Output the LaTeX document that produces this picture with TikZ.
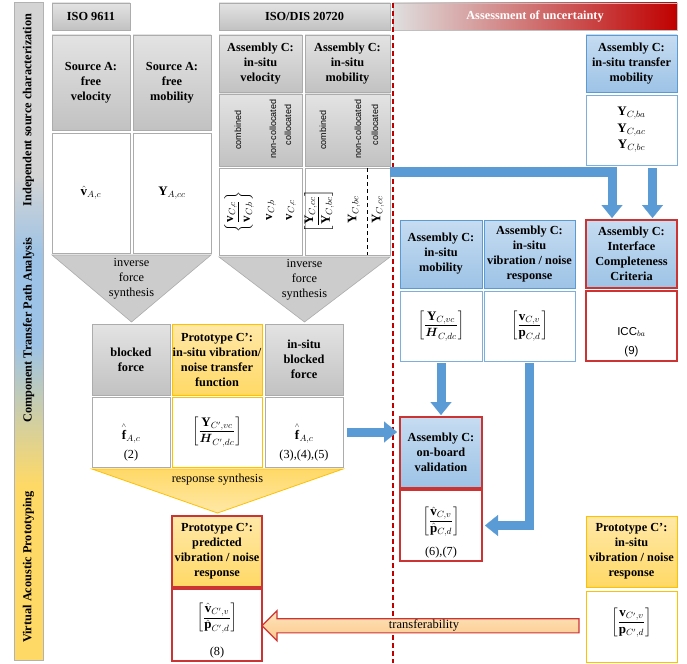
\documentclass[tikz,border=0pt]{standalone}
\usepackage{amsmath}
\usepackage{fontspec}
\setmainfont{Liberation Serif}
\setsansfont{Liberation Sans}
\usetikzlibrary{arrows.meta,shapes.arrows,calc}
\definecolor{bluefill1}{HTML}{C6DCF1}
\definecolor{bluefill2}{HTML}{9DC3E6}
\definecolor{bluedraw}{HTML}{5B9BD5}
\definecolor{arrowblue}{HTML}{5B9BD5}
\definecolor{yel1}{HTML}{FFE8A8}
\definecolor{yel2}{HTML}{FFD966}
\definecolor{yeldraw}{HTML}{FFC000}
\definecolor{redd}{HTML}{CC3333}
\definecolor{darkred}{HTML}{C00000}
\definecolor{midred}{HTML}{D02A2A}
\definecolor{peach1}{HTML}{FFE4BC}
\definecolor{peach2}{HTML}{FBC98C}
\definecolor{side1}{HTML}{D4D4D4}
\tikzset{
  sz/.style 2 args={minimum width=#1pt, minimum height=#2pt},
  base/.style={rectangle, inner sep=0pt, outer sep=0pt, anchor=north west, align=center},
  titlefont/.style={font=\fontsize{12.3}{15}\selectfont\bfseries},
  graybox/.style={base, titlefont, draw=gray!65, top color=gray!22, bottom color=gray!48, line width=0.6pt},
  bluebox/.style={base, titlefont, draw=bluedraw, top color=bluefill1, bottom color=bluefill2, line width=0.8pt},
  yelbox/.style={base, titlefont, draw=yeldraw, top color=yel1, bottom color=yel2, line width=0.8pt},
  whitebox/.style={base, fill=white, draw=gray!65, line width=0.6pt},
  bluewhite/.style={whitebox, draw=bluedraw!80},
  yelwhite/.style={whitebox, draw=yeldraw},
  redwhite/.style={whitebox, draw=redd, line width=1.2pt},
  mathtext/.style={font=\fontsize{13}{15}\selectfont, inner sep=0pt},
  numtext/.style={font=\fontsize{12.3}{15}\selectfont, inner sep=0pt},
  plaintext/.style={font=\fontsize{12.3}{15}\selectfont, inner sep=0pt, align=center},
  rlab/.style={rotate=90, font=\sffamily\fontsize{9}{10}\selectfont, inner sep=0pt},
  rmath/.style={rotate=90, font=\fontsize{13}{15}\selectfont, inner sep=0pt},
  sidelab/.style={rotate=90, font=\fontsize{12.3}{14}\selectfont\bfseries, inner sep=0pt},
  tri/.style={draw=gray!65, fill=gray!40, line width=0.6pt},
  ytri/.style={draw=yeldraw, top color=yel2, bottom color=yel1, line width=0.8pt},
  barrow/.style={draw=arrowblue, line width=9pt, -{Triangle[width=21pt,length=13pt,line width=0.1pt]}},
}
\begin{document}
\begin{tikzpicture}[x=1pt,y=-1pt]
\useasboundingbox (0,0) rectangle (687,663);

% sidebar
\fill[side1] (14,2) rectangle (43,175);
\shade[top color=side1, bottom color=bluefill2] (14,175) rectangle (43,255);
\fill[bluefill2] (14,255) rectangle (43,345);
\shade[top color=bluefill2, bottom color=yel2] (14,345) rectangle (43,485);
\fill[yel2] (14,485) rectangle (43,660);
\draw[gray!60, line width=0.6pt] (14,2) rectangle (43,660);
\node[sidelab] (s1) at (28.5,110) {Independent source characterization};
\node[sidelab] (s2) at (28.5,330) {Component Transfer Path Analysis};
\node[sidelab] (s3) at (28.5,567) {Virtual Acoustic Prototyping};

% headers
\node[graybox, sz={78}{27}] (hiso9611) at (52,3) {ISO 9611};
\node[graybox, sz={171}{27}] (hiso20720) at (219,3) {ISO/DIS 20720};
\node[base, titlefont, text=white, draw=gray!50, line width=0.6pt, left color=gray!25, middle color=midred, right color=darkred, sz={284}{27}] (hunc) at (393,3) {Assessment of uncertainty};

% ISO 9611 column
\node[graybox, sz={78}{95}] (sav) at (52,35) {Source A:\\free\\velocity};
\node[graybox, sz={78}{95}] (sam) at (133,35) {Source A:\\free\\mobility};
\node[whitebox, sz={78}{120}] (wsav) at (52,133) {};
\node[whitebox, sz={78}{120}] (wsam) at (133,133) {};
\node[mathtext] (msav) at (wsav.center) {$\hat{\mathbf{v}}_{A,c}$};
\node[mathtext] (msam) at (wsam.center) {$\mathbf{Y}_{A,cc}$};
\draw[tri] (52,255) -- (211,255) -- (131.5,322) -- cycle;
\node[plaintext] (t1) at (131.5,279) {inverse\\force\\synthesis};

% ISO/DIS 20720 column
\node[graybox, sz={83}{57}] (acv) at (219,35) {Assembly C:\\in-situ\\velocity};
\node[graybox, sz={85}{57}] (acm) at (305,35) {Assembly C:\\in-situ\\mobility};
\node[graybox, sz={83}{72}] (lcv) at (219,94) {};
\node[graybox, sz={85}{72}] (lcm) at (305,94) {};
\node[rlab] (l1) at (238,130) {combined};
\node[rlab] (l2) at (273,129) {non-collocated};
\node[rlab] (l3) at (288,125) {collocated};
\node[rlab] (l4) at (323,130) {combined};
\node[rlab] (l5) at (358,129) {non-collocated};
\node[rlab] (l6) at (375,125) {collocated};
\node[whitebox, sz={83}{87}] (wacv) at (219,168) {};
\node[whitebox, sz={85}{87}] (wacm) at (305,168) {};
\node[rmath] (r1) at (239,212) {$\left\{\dfrac{\mathbf{v}_{C,c}}{\mathbf{v}_{C,b}}\right\}$};
\node[rmath] (r2) at (271,210) {$\mathbf{v}_{C,b}$};
\node[rmath] (r3) at (291,210) {$\mathbf{v}_{C,c}$};
\node[rmath] (r4) at (319,211) {$\left[\dfrac{\mathbf{Y}_{C,cc}}{\mathbf{Y}_{C,bc}}\right]$};
\node[rmath] (r5) at (354,210) {$\mathbf{Y}_{C,bc}$};
\node[rmath] (r6) at (378,210) {$\mathbf{Y}_{C,cc}$};
\draw[line width=1pt, dash pattern=on 4pt off 3pt] ($(wacm.north west)+(62,0)$) -- ($(wacm.south west)+(62,0)$);
\draw[tri] (219,257) -- (390,257) -- (304.5,322) -- cycle;
\node[plaintext] (t2) at (304.5,280) {inverse\\force\\synthesis};

% right upper
\node[bluebox, sz={91}{57}] (atm) at (586,35) {Assembly C:\\in-situ transfer\\mobility};
\node[bluewhite, sz={91}{70}] (watm) at (586,95) {};
\node[mathtext, align=center, font=\fontsize{13}{16.5}\selectfont] (matm) at (watm.center) {$\mathbf{Y}_{C,ba}$\\$\mathbf{Y}_{C,ac}$\\$\mathbf{Y}_{C,bc}$};

\node[bluebox, sz={82}{68}] (aism) at (400,220) {Assembly C:\\in-situ\\mobility};
\node[bluebox, sz={91}{68}] (avib) at (484,220) {Assembly C:\\in-situ\\vibration / noise\\response};
\node[bluebox, draw=redd, line width=1.2pt, sz={91}{68}] (icc) at (586,220) {Assembly C:\\Interface\\Completeness\\Criteria};
\node[bluewhite, sz={82}{70}] (waism) at (400,291) {};
\node[bluewhite, sz={91}{70}] (wavib) at (484,291) {};
\node[redwhite, sz={91}{70}] (wicc) at (586,291) {};
\node[mathtext] (maism) at (waism.center) {$\left[\dfrac{\mathbf{Y}_{C,vc}}{\boldsymbol{H}_{C,dc}}\right]$};
\node[mathtext] (mavib) at (wavib.center) {$\left[\dfrac{\mathbf{v}_{C,v}}{\mathbf{p}_{C,d}}\right]$};
\node[numtext, font=\sffamily\fontsize{11.5}{13}\selectfont] (micc) at ($(wicc.center)+(0,6)$) {ICC$_{ba}$};
\node[numtext, font=\sffamily\fontsize{11.5}{13}\selectfont] (nicc) at ($(wicc.center)+(0,26)$) {(9)};

% middle row
\node[graybox, sz={78}{71}] (bf) at (92,324) {blocked\\force};
\node[yelbox, sz={90}{71}] (ptf) at (172,324) {Prototype C’:\\in-situ vibration/\\noise transfer\\function};
\node[graybox, sz={78}{71}] (isbf) at (265,324) {in-situ\\blocked\\force};
\node[whitebox, sz={78}{70}] (wbf) at (92,397) {};
\node[yelwhite, sz={90}{70}] (wptf) at (172,397) {};
\node[whitebox, sz={78}{70}] (wisbf) at (265,397) {};
\node[mathtext] (mbf) at ($(wbf.center)+(0,1)$) {$\overset{\scriptscriptstyle\wedge}{\mathbf{f}}_{A,c}$};
\node[numtext] (nbf) at ($(wbf.center)+(0,24)$) {(2)};
\node[mathtext] (mptf) at (wptf.center) {$\left[\dfrac{\mathbf{Y}_{C',vc}}{\boldsymbol{H}_{C',dc}}\right]$};
\node[mathtext] (misbf) at ($(wisbf.center)+(0,1)$) {$\overset{\scriptscriptstyle\wedge}{\mathbf{f}}_{A,c}$};
\node[numtext] (nisbf) at ($(wisbf.center)+(0,24)$) {(3),(4),(5)};
\draw[ytri] (92,469) -- (343,469) -- (217.5,513) -- cycle;
\node[plaintext] (t3) at (217.5,480) {response synthesis};

% on-board validation
\node[bluebox, draw=redd, line width=1.2pt, sz={82}{71}] (onb) at (400,417) {Assembly C:\\on-board\\validation};
\node[redwhite, sz={82}{71}] (wonb) at (400,490) {};
\node[mathtext] (monb) at ($(wonb.center)+(0,-4)$) {$\left[\dfrac{\hat{\mathbf{v}}_{C,v}}{\hat{\mathbf{p}}_{C,d}}\right]$};
\node[numtext] (nonb) at ($(wonb.center)+(0,27.5)$) {(6),(7)};

% bottom row
\node[yelbox, draw=redd, line width=1.2pt, sz={90}{71}] (pred) at (172,516) {Prototype C’:\\predicted\\vibration / noise\\response};
\node[redwhite, sz={90}{72}] (wpred) at (172,589) {};
\node[mathtext] (mpred) at ($(wpred.center)+(0,-7)$) {$\left[\dfrac{\hat{\mathbf{v}}_{C',v}}{\hat{\mathbf{p}}_{C',d}}\right]$};
\node[numtext] (npred) at ($(wpred.center)+(0,28)$) {(8)};
\node[yelbox, sz={91}{71}] (prot) at (586,516) {Prototype C’:\\in-situ\\vibration / noise\\response};
\node[yelwhite, sz={91}{71}] (wprot) at (586,591) {};
\node[mathtext] (mprot) at ($(wprot.center)+(0,-4)$) {$\left[\dfrac{\mathbf{v}_{C',v}}{\mathbf{p}_{C',d}}\right]$};

% dashed separator
\draw[darkred, line width=1.4pt, dash pattern=on 5pt off 3pt] (393,3) -- (393,663);

% transferability arrow
\node[single arrow, shape border rotate=180, draw=redd, line width=1.2pt, top color=peach1, bottom color=peach2,
      single arrow head extend=8pt, single arrow tip angle=90, minimum height=317pt, inner sep=0pt,
      text height=9pt, text depth=4pt, font=\fontsize{12.5}{14}\selectfont] (transf)
      at ($(wpred.east)!0.5!(wprot.west)$) {transferability};

% blue arrows
\draw[barrow] ($(wacm.north east)+(0,4)$) -| ($(icc.north west)+(26,-2)$);
\draw[barrow] ($(watm.south)+(21,3)$) -- ($(icc.north)+(21,-2)$);
\draw[barrow] ($(waism.south)+(0,2)$) -- ($(onb.north)+(0,-2)$);
\draw[barrow] ($(wavib.south)+(0,2)$) |- ($(wonb.east)+(3,0)$);
\draw[barrow] ($(wisbf.east)+(4,0)$) -- ($(wisbf.east -| onb.west)+(-3,0)$);
\end{tikzpicture}
\end{document}
